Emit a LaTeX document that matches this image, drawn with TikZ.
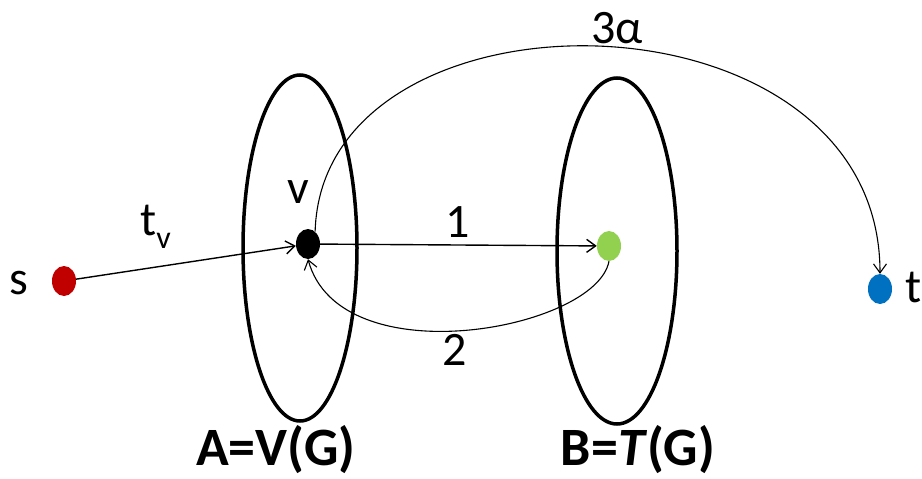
\documentclass[tikz,border=0pt]{standalone}
\usepackage{fontspec}
\setmainfont{Carlito}
\usetikzlibrary{arrows.meta,shapes.geometric}
\definecolor{sred}{HTML}{C00000}
\definecolor{vgreen}{HTML}{92D050}
\definecolor{tblue}{HTML}{0070C0}
\tikzset{
  dot/.style={ellipse, minimum width=24pt, minimum height=30pt, inner sep=0pt},
  conn/.style={line width=1.4pt, -{Straight Barb[length=9pt,width=13pt,line width=1.4pt]}},
  thinconn/.style={line width=1.1pt, -{Straight Barb[length=9pt,width=13pt,line width=1.1pt]}},
  lbl/.style={font=\fontsize{48}{52}\selectfont, inner sep=0pt},
  biglbl/.style={font=\fontsize{54}{58}\selectfont\bfseries, inner sep=0pt}
}
\begin{document}
\begin{tikzpicture}[x=1pt,y=-1pt]
\useasboundingbox (0,0) rectangle (922,479);
% sets
\draw[line width=3.5pt] (300,248) ellipse [x radius=57, y radius=173];
\draw[line width=3.5pt] (617,251) ellipse [x radius=60, y radius=173];
% vertices
\node[dot, fill=sred] (s) at (64,281) {};
\node[dot, fill=black] (v) at (308,244) {};
\node[dot, fill=vgreen] (g) at (609,246) {};
\node[dot, fill=tblue] (t) at (880,289) {};
% labels
\node[lbl] (ls) at (19,283) {s};
\node[lbl] (lt) at (914,287) {t};
\node[lbl] (lv) at (298,192) {v};
\node[lbl] (l1) at (458,222) {1};
\node[lbl] (l2) at (455,350) {2};
\node[lbl] (l3) at (617,28) {3α};
\node[lbl, anchor=base west] (ltv) at (140,235) {t\raisebox{-13pt}{\fontsize{32}{34}\selectfont v}};
\node[biglbl] (la) at (276,450) {A=V(G)};
\node[biglbl] (lb) at (638,450) {B=\textit{T}(G)};
% edges
\draw[conn] (s) -- (v);
\draw[conn] (v) -- (g);
\draw[thinconn] (g.south) .. controls (596,330) and (340,377) .. (v.south);
\draw[thinconn] (v.60) .. controls (322,-25) and (880,-20) .. (t.north);
\end{tikzpicture}
\end{document}
